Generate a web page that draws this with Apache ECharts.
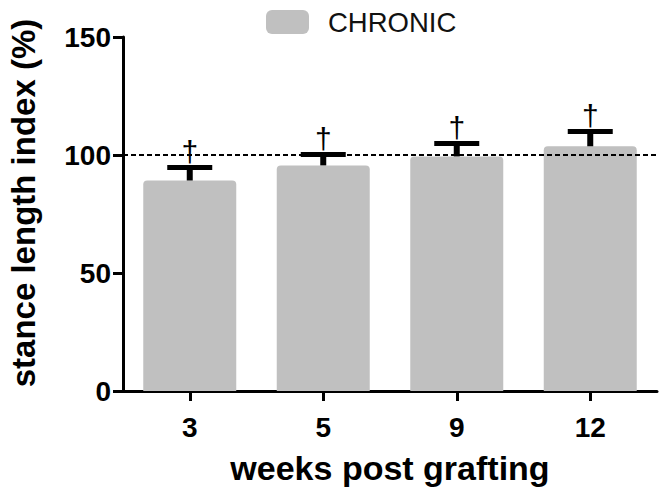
<!DOCTYPE html>
<html>
<head>
<meta charset="utf-8">
<script src="https://cdn.jsdelivr.net/npm/echarts@6/dist/echarts.min.js"></script>
<style>
html,body{margin:0;padding:0;background:#fff;}
#chart{width:660px;height:489px;}
</style>
</head>
<body>
<div id="chart"></div>
<script>
const categories = ['3', '5', '9', '12'];
const meanValues = [89.2, 95.6, 99.4, 103.7];
const upperErrors = [94.7, 100.2, 104.9, 110.0];
const significance = ['\u2020', '\u2020', '\u2020', '\u2020'];
const yTicks = [0, 50, 100, 150];
const referenceLine = 100;
const seriesName = 'CHRONIC';

const FONT = '"Liberation Sans", Arial, Helvetica, sans-serif';
const chart = echarts.init(document.getElementById('chart'), null, {renderer: 'svg'});

const errData = categories.map((c, i) => [i, meanValues[i], upperErrors[i], significance[i]]);

const option = {
  animation: false,
  backgroundColor: '#fff',
  textStyle: {fontFamily: FONT},
  grid: {left: 123, right: 3, top: 37, bottom: 98, containLabel: false, outerBoundsMode: 'none'},
  legend: {
    left: 261, top: 3,
    itemWidth: 43, itemHeight: 24,
    data: [{name: seriesName, icon: 'roundRect'}],
    textStyle: {fontSize: 27.5, color: '#111', fontFamily: FONT, padding: [0, 0, 0, 14]}
  },
  xAxis: {
    type: 'category',
    data: categories,
    axisLine: {lineStyle: {color: '#000', width: 3}},
    axisTick: {show: true, alignWithLabel: true, length: 10, lineStyle: {color: '#000', width: 3}},
    axisLabel: {fontSize: 28, fontWeight: 'bold', color: '#000', margin: 22, fontFamily: FONT},
    name: 'weeks post grafting',
    nameLocation: 'middle',
    nameGap: 60,
    nameTextStyle: {fontSize: 34, fontWeight: 'bold', color: '#000', fontFamily: FONT, lineHeight: 34}
  },
  yAxis: {
    type: 'value',
    min: yTicks[0], max: yTicks[yTicks.length - 1], interval: 50,
    splitLine: {show: false},
    axisLine: {show: true, lineStyle: {color: '#000', width: 3}},
    axisTick: {show: true, length: 10, lineStyle: {color: '#000', width: 3}},
    axisLabel: {fontSize: 28, fontWeight: 'bold', color: '#000', margin: 12, fontFamily: FONT}
  },
  graphic: [{
    type: 'text',
    x: 23, y: 203,
    rotation: Math.PI / 2,
    style: {
      text: 'stance length index (%)',
      font: 'bold 33px ' + FONT,
      fill: '#000',
      align: 'center',
      verticalAlign: 'middle'
    }
  }],
  series: [
    {
      name: seriesName,
      type: 'bar',
      data: meanValues,
      barWidth: 93,
      itemStyle: {color: '#c0c0c0', borderRadius: [4, 4, 0, 0]},
      markLine: {
        silent: true,
        symbol: 'none',
        label: {show: false},
        lineStyle: {color: '#000', type: [5, 3], width: 2},
        data: [{yAxis: referenceLine}]
      },
      z: 2
    },
    {
      type: 'custom',
      data: errData,
      z: 5,
      renderItem: function (params, api) {
        const x = api.value(0);
        const top = api.coord([x, api.value(2)]);
        const base = api.coord([x, api.value(1)]);
        const capW = 45, capH = 5, stemW = 6;
        return {
          type: 'group',
          children: [
            {type: 'rect', shape: {x: top[0] - stemW / 2, y: top[1], width: stemW, height: base[1] - top[1]}, style: {fill: '#000'}},
            {type: 'rect', shape: {x: top[0] - capW / 2, y: top[1] - capH / 2, width: capW, height: capH}, style: {fill: '#000'}},
            {type: 'text', x: top[0], y: top[1] - 1, style: {text: api.value(3), font: '30px ' + FONT, fill: '#000', align: 'center', verticalAlign: 'bottom'}}
          ]
        };
      }
    }
  ]
};
chart.setOption(option);
</script>
</body>
</html>
